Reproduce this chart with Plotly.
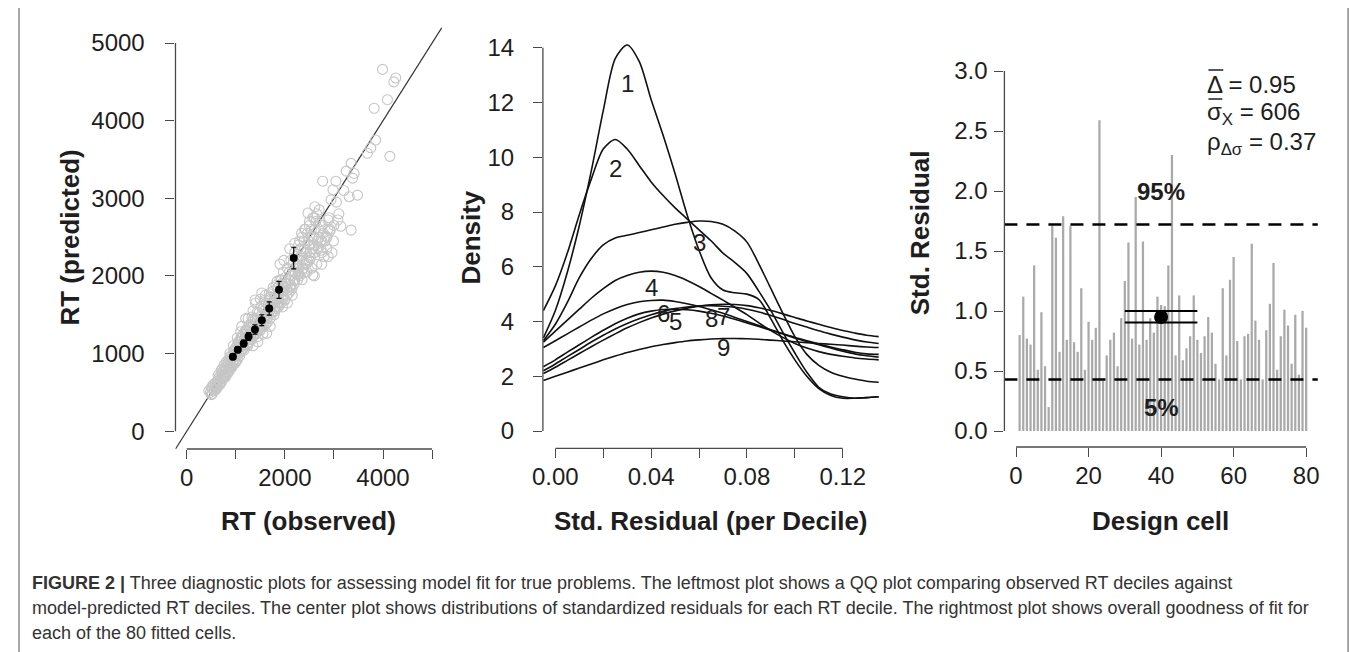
import plotly.graph_objects as go

W, H = 1357, 652
OFF = 8  # default page (body) margin of the html page
FW, FH = W - OFF, H - OFF
FONT = "Liberation Sans, Arial, sans-serif"

# ---------------- Left panel: QQ plot data ----------------
obs_gray = [450, 480, 500, 520, 540, 560, 580, 600, 620, 640, 660, 680, 700, 720, 740, 760, 780, 800, 820, 840,
            860, 880, 900, 920, 940, 960, 980, 1000, 1000, 1020,
            1050, 1060, 1080, 1100, 1120, 1150, 1160, 1180, 1200, 1220, 1250, 1260, 1280, 1300, 1320, 1350, 1370,
            1400, 1420, 1450, 1470, 1500, 1520, 1550, 1570, 1600, 1620, 1640, 1400, 1300, 1450, 1550, 1200, 1100,
            1650, 1680, 1700, 1720, 1750, 1780, 1800, 1820, 1850, 1870, 1900, 1920, 1950, 1970, 2000, 2020, 2050,
            2080, 2100, 2120, 2150, 2170, 2200, 1900, 1980, 2100, 1800, 1750,
            2250, 2280, 2300, 2330, 2350, 2380, 2400, 2420, 2450, 2480, 2500, 2520, 2550, 2570, 2600, 2620, 2650,
            2680, 2700, 2720, 2750, 2780, 2800, 2850, 2880, 2600, 2500, 2400, 2300, 2700, 2900,
            2880, 2740, 2570, 2610, 2470, 2340, 2200, 2270, 2130, 2000, 1930, 1870, 1630, 1530, 1390, 1330, 1120,
            2770, 3040, 2980, 2940, 3350, 3140, 2880, 3350, 3410, 3380, 3480, 3310, 3990, 4260, 4220, 4090, 3820,
            4140, 3850, 3750, 3680, 3050, 3200, 3100, 3250,
            500, 520, 550, 570, 590, 610, 630, 650, 670, 690, 710, 730, 750, 770, 790, 810, 830, 850, 870, 890,
            910, 930, 950, 970, 990, 1010, 1030, 880, 950, 820, 760, 700, 1030,
            1040, 1070, 1090, 1110, 1130, 1140, 1170, 1190, 1210, 1230, 1240, 1270, 1290, 1310, 1330, 1360, 1380,
            1410, 1430, 1460, 1480, 1510, 1530, 1560, 1590, 1610, 1630, 1660, 1250, 1350, 1500, 1600, 1450, 1700,
            1350,
            1690, 1710, 1740, 1760, 1790, 1810, 1840, 1860, 1880, 1910, 1940, 1960, 1990, 2010, 2040, 2060, 2090,
            2110, 2140, 2160, 2190, 2210, 2240, 2260, 2290, 2320, 2340, 2370, 2390, 2410, 2440, 2460, 2490, 2510,
            2540, 2560, 2590, 2630, 2660, 2690, 2730, 2760, 2820, 2860, 2920, 2960, 2990, 2450, 2350, 2550, 2150,
            2050, 1950, 2650, 2750, 2600, 2500, 2400, 2300, 2200,
            600, 680, 760, 840, 920, 1000, 1080, 1160, 1240, 1320, 1400, 1480, 1560, 1640, 1720, 1800, 1880, 1960,
            2040, 2120, 2200, 2280, 2360, 2440, 2520, 2600, 2680, 2760, 2840, 2920, 3000, 3080,
            640, 720, 800, 880, 960, 1040, 1120, 1200, 1280, 1360, 1440, 1520, 1600, 1680, 1760, 1840]
pred_gray = [520, 500, 560, 480, 600, 530, 620, 560, 640, 590, 700, 620, 680, 760, 690, 800, 720, 830, 760, 880,
             800, 920, 840, 980, 880, 1020, 930, 1080, 900, 980,
             1150, 1000, 1080, 1200, 1040, 1250, 1100, 1180, 1300, 1120, 1230, 1350, 1150, 1280, 1400, 1220, 1330,
             1450, 1260, 1380, 1520, 1300, 1430, 1580, 1350, 1480, 1650, 1400, 1650, 1200, 1220, 1250, 1450, 1280,
             1550, 1720, 1450, 1600, 1800, 1500, 1680, 1880, 1600, 1750, 1950, 1650, 1820, 2050, 1700, 1900, 2100,
             1780, 1950, 2200, 1850, 2050, 1950, 2150, 2200, 2350, 1550, 1650,
             2150, 2400, 2000, 2250, 2500, 2100, 2350, 2600, 2200, 2450, 2650, 2300, 2500, 2750, 2400, 2600, 2800,
             2350, 2500, 2700, 2300, 2550, 2250, 2350, 2600, 2000, 2200, 2050, 2200, 2850, 2750,
             2720, 2330, 2010, 2890, 2810, 2550, 2420, 2030, 1820, 1690, 1950, 1600, 1260, 1780, 1690, 1470, 1350,
             3220, 3220, 3110, 2980, 2590, 2640, 2250, 3450, 3320, 3260, 3040, 3020, 4660, 4550, 4500, 4270, 4160,
             3540, 3750, 3650, 3580, 2950, 3100, 2800, 3350,
             470, 560, 520, 580, 540, 610, 570, 650, 600, 700, 640, 720, 680, 760, 700, 800, 740, 850, 780, 880,
             820, 940, 860, 980, 880, 1050, 920, 1000, 1100, 900, 850, 780, 1200,
             1080, 1150, 1020, 1130, 1210, 1060, 1150, 1250, 1180, 1300, 1100, 1220, 1330, 1180, 1280, 1380, 1240,
             1330, 1420, 1300, 1400, 1480, 1340, 1450, 1560, 1380, 1500, 1620, 1450, 1550, 1700, 1750, 1150, 1350,
             1100,
             1550, 1700, 1520, 1650, 1750, 1580, 1700, 1850, 1650, 1780, 1900, 1700, 1850, 1980, 1750, 1900, 2050,
             1850, 2000, 2150, 1900, 2050, 2250, 1950, 2100, 2350, 2050, 2200, 2450, 2150, 2300, 2550, 2250, 2400,
             2600, 2350, 2500, 2700, 2450, 2600, 2450, 2650, 2450, 2500, 2600, 2300, 2450, 2050, 1950, 2100, 1750,
             1650, 1600, 2150, 2150, 2750, 2700, 2600, 2450, 2300,
             540, 610, 690, 760, 830, 900, 970, 1040, 1110, 1180, 1250, 1320, 1390, 1460, 1530, 1600, 1670, 1740,
             1810, 1880, 1950, 2020, 2090, 2160, 2230, 2300, 2370, 2440, 2510, 2580, 2650, 2720,
             720, 800, 880, 960, 1040, 1120, 1200, 1290, 1370, 1450, 1530, 1610, 1690, 1770, 1850, 1930]
obs_mean = [940, 1040, 1160, 1260, 1390, 1530, 1680, 1880, 2180]
pred_mean = [960, 1050, 1130, 1220, 1310, 1430, 1580, 1820, 2230]
pred_err = [40, 40, 45, 50, 60, 70, 85, 110, 140]
rt_ticks = [0, 1000, 2000, 3000, 4000, 5000]
rt_x_labels = ["0", "", "2000", "", "4000", ""]
rt_y_labels = ["0", "1000", "2000", "3000", "4000", "5000"]
rt_range = [-230, 5200]

# ---------------- Center panel: residual densities ----------------
resid_x = [-0.005, 0.0, 0.005, 0.01, 0.015, 0.02, 0.025, 0.03, 0.035, 0.04, 0.045, 0.05, 0.055, 0.06, 0.065,
           0.07, 0.075, 0.08, 0.085, 0.09, 0.095, 0.1, 0.105, 0.11, 0.115, 0.12, 0.125, 0.13, 0.135]
dens_1 = [3.4, 4.4, 5.8, 7.5, 9.5, 11.7, 13.6, 14.1, 13.5, 12.1, 10.8, 9.4, 7.9, 6.6, 5.6, 5.15, 5.05, 5.0, 4.8,
          4.1, 3.3, 2.6, 2.0, 1.55, 1.3, 1.2, 1.2, 1.22, 1.25]
dens_2 = [4.4, 5.3, 6.5, 7.9, 9.2, 10.3, 10.65, 10.3, 9.7, 9.1, 8.6, 8.15, 7.75, 7.35, 6.95, 6.5, 6.15, 5.75, 5.1,
          4.4, 3.6, 2.85, 2.15, 1.6, 1.35, 1.25, 1.2, 1.22, 1.25]
dens_3 = [3.3, 3.9, 4.7, 5.6, 6.3, 6.8, 7.05, 7.15, 7.25, 7.35, 7.45, 7.55, 7.62, 7.67, 7.65, 7.55, 7.3, 6.9, 6.1,
          5.2, 4.3, 3.45, 2.8, 2.4, 2.15, 2.0, 1.9, 1.82, 1.78]
dens_4 = [3.25, 3.65, 4.05, 4.45, 4.85, 5.2, 5.5, 5.68, 5.8, 5.84, 5.8, 5.68, 5.5, 5.28, 5.03, 4.78, 4.52, 4.25,
          3.95, 3.67, 3.42, 3.2, 3.03, 2.9, 2.8, 2.73, 2.67, 2.63, 2.6]
dens_5 = [2.35, 2.6, 2.88, 3.15, 3.42, 3.68, 3.92, 4.12, 4.28, 4.38, 4.44, 4.45, 4.43, 4.38, 4.3, 4.2, 4.08, 3.95,
          3.82, 3.68, 3.55, 3.42, 3.3, 3.18, 3.07, 2.97, 2.88, 2.82, 2.8]
dens_6 = [3.05, 3.3, 3.55, 3.8, 4.05, 4.28, 4.47, 4.62, 4.72, 4.77, 4.78, 4.73, 4.65, 4.55, 4.43, 4.3, 4.15, 4.0,
          3.85, 3.7, 3.55, 3.4, 3.27, 3.15, 3.03, 2.92, 2.82, 2.75, 2.7]
dens_7 = [2.1, 2.33, 2.58, 2.83, 3.08, 3.32, 3.55, 3.77, 3.96, 4.13, 4.27, 4.39, 4.49, 4.56, 4.61, 4.63, 4.62, 4.58,
          4.5, 4.4, 4.28, 4.15, 4.02, 3.9, 3.78, 3.67, 3.58, 3.5, 3.45]
dens_8 = [2.2, 2.45, 2.72, 2.98, 3.25, 3.5, 3.73, 3.93, 4.1, 4.25, 4.37, 4.47, 4.53, 4.57, 4.58, 4.56, 4.52, 4.45,
          4.35, 4.22, 4.08, 3.93, 3.8, 3.66, 3.54, 3.43, 3.33, 3.25, 3.2]
dens_9 = [1.85, 2.0, 2.15, 2.3, 2.45, 2.6, 2.74, 2.87, 2.98, 3.08, 3.16, 3.23, 3.29, 3.33, 3.36, 3.38, 3.38, 3.37,
          3.35, 3.32, 3.29, 3.26, 3.23, 3.2, 3.17, 3.14, 3.1, 3.07, 3.05]
dens_labels = ["1", "2", "3", "4", "5", "6", "7", "8", "9"]
dens_ticks_x = [0.0, 0.02, 0.04, 0.06, 0.08, 0.1, 0.12]
dens_ticktext_x = ["0.00", "", "0.04", "", "0.08", "", "0.12"]
dens_ticks_y = [0, 2, 4, 6, 8, 10, 12, 14]

# ---------------- Right panel: per-cell goodness of fit ----------------
cells = list(range(1, 81))
cell_resid = [0.80, 1.12, 0.77, 0.72, 1.38, 0.51, 0.99, 0.54, 0.20, 1.71,
              1.61, 0.66, 1.79, 0.76, 1.71, 0.74, 0.66, 1.19, 0.51, 0.91,
              0.76, 0.86, 2.59, 0.42, 0.63, 0.76, 0.82, 0.54, 0.94, 1.25,
              1.57, 0.77, 1.95, 0.72, 1.58, 0.76, 0.94, 0.82, 1.12, 1.05,
              1.04, 1.38, 2.30, 0.63, 1.13, 0.59, 0.69, 0.79, 1.13, 0.76,
              0.65, 0.79, 0.95, 0.82, 0.56, 0.43, 1.19, 0.63, 1.26, 1.45,
              0.75, 0.43, 0.79, 0.81, 1.56, 0.92, 0.76, 0.43, 0.84, 1.06,
              1.40, 0.51, 0.79, 1.01, 0.88, 0.56, 0.97, 0.47, 1.00, 0.86]
q95, q05 = 1.72, 0.43
mean_delta, ci_hi, ci_lo = 0.95, 1.00, 0.905
mean_cell, ci_span = 40, [30, 50]
cell_ticks = [0, 20, 40, 60, 80]
res_ticks = [0.0, 0.5, 1.0, 1.5, 2.0, 2.5, 3.0]
stat_lines = ["\u0394 = 0.95", "\u03c3<sub>X</sub> = 606", "\u03c1<sub>\u0394\u03c3</sub> = 0.37"]


# ---------------- Geometry helpers (reference pixels -> paper) ----------------
def px_x(p):
    return (p - OFF) / FW


def px_y(p):
    return 1 - (p - OFF) / FH


fig = go.Figure()

GRAY = "#c6c6c6"
AX = "#4a4a4a"
TXT = "#1e1e1e"

# Left panel traces
fig.add_trace(go.Scatter(x=[rt_range[0] - 200, rt_range[1] + 200], y=[rt_range[0] - 200, rt_range[1] + 200],
                         mode="lines", line=dict(color="#333333", width=1.2), xaxis="x", yaxis="y",
                         hoverinfo="skip", showlegend=False))
fig.add_trace(go.Scatter(x=obs_gray, y=pred_gray, mode="markers", xaxis="x", yaxis="y", showlegend=False,
                         marker=dict(symbol="circle-open", size=10, color=GRAY, line=dict(width=1.1, color=GRAY))))
fig.add_trace(go.Scatter(x=obs_mean, y=pred_mean, mode="markers", xaxis="x", yaxis="y", showlegend=False,
                         marker=dict(size=8, color="black"),
                         error_y=dict(type="data", array=pred_err, color="black", thickness=1.1, width=2.5)))

# Center panel traces
dens_all = [dens_1, dens_2, dens_3, dens_4, dens_5, dens_6, dens_7, dens_8, dens_9]
for d in dens_all:
    fig.add_trace(go.Scatter(x=resid_x, y=d, mode="lines",
                             line=dict(color="#111111", width=1.6, shape="spline", smoothing=0.8),
                             xaxis="x2", yaxis="y2", showlegend=False, hoverinfo="skip"))

annotations = []
for lab, d in zip(dens_labels, dens_all):
    i = max(range(len(d)), key=lambda k: d[k])
    annotations.append(dict(x=resid_x[i], y=0.9 * d[i], xref="x2", yref="y2", text=lab, showarrow=False,
                            xanchor="center", yanchor="middle", font=dict(family=FONT, size=24, color=TXT)))

# Right panel traces
fig.add_trace(go.Bar(x=cells, y=cell_resid, width=0.62, marker=dict(color="#a9a9a9", line=dict(width=0)),
                     xaxis="x3", yaxis="y3", showlegend=False))
for yv in (ci_hi, ci_lo):
    fig.add_trace(go.Scatter(x=ci_span, y=[yv, yv], mode="lines", line=dict(color="black", width=2),
                             xaxis="x3", yaxis="y3", showlegend=False))
fig.add_trace(go.Scatter(x=[mean_cell], y=[mean_delta], mode="markers", marker=dict(size=14, color="black"),
                         xaxis="x3", yaxis="y3", showlegend=False))

shapes = []
for yv in (q95, q05):
    shapes.append(dict(type="line", xref="x3 domain", x0=0, x1=1, yref="y3", y0=yv, y1=yv,
                       line=dict(color="black", width=2.5, dash="13px,9px")))


# R-style axis lines spanning only the tick range
def axis_lines(xa, ya, xt, yt):
    return [dict(type="line", xref=xa, x0=xt[0], x1=xt[-1], yref=ya + " domain", y0=0, y1=0,
                 line=dict(color=AX, width=1.3)),
            dict(type="line", xref=xa + " domain", x0=0, x1=0, yref=ya, y0=yt[0], y1=yt[-1],
                 line=dict(color=AX, width=1.3))]


shapes += axis_lines("x", "y", rt_ticks, rt_ticks)
shapes += axis_lines("x2", "y2", dens_ticks_x, dens_ticks_y)
shapes += axis_lines("x3", "y3", cell_ticks, res_ticks)

# Outer figure frame
shapes.append(dict(type="rect", xref="paper", yref="paper", x0=px_x(8), x1=px_x(1350), y0=px_y(720),
                   y1=px_y(6), line=dict(color="#8a8a8a", width=1.5)))

# Overlines for the statistics block
for x0, x1, yy in ((1209, 1224, 70), (1209, 1223, 99)):
    shapes.append(dict(type="line", xref="paper", yref="paper", x0=px_x(x0), x1=px_x(x1), y0=px_y(yy),
                       y1=px_y(yy), line=dict(color=TXT, width=1.5)))

annotations.append(dict(x=40, y=2.0, xref="x3", yref="y3", text="<b>95%</b>", showarrow=False,
                        xanchor="center", yanchor="middle", font=dict(family=FONT, size=24, color=TXT)))
annotations.append(dict(x=40, y=0.2, xref="x3", yref="y3", text="<b>5%</b>", showarrow=False,
                        xanchor="center", yanchor="middle", font=dict(family=FONT, size=24, color=TXT)))
for t, yy in zip(stat_lines, (85, 113, 143)):
    annotations.append(dict(x=px_x(1206), y=px_y(yy), xref="paper", yref="paper", text=t, showarrow=False,
                            xanchor="left", yanchor="middle", font=dict(family=FONT, size=24, color=TXT)))

# Axis titles
TITLE_FONT = dict(family=FONT, size=26, color=TXT)
titles = [("<b>RT (observed)</b>", 300, 521, 0), ("<b>RT (predicted)</b>", 59, 238, -90),
          ("<b>Std. Residual (per Decile)</b>", 707, 521, 0), ("<b>Density</b>", 464, 238, -90),
          ("<b>Design cell</b>", 1161, 521, 0), ("<b>Std. Residual</b>", 918, 233, -90)]
for t, x, y, ang in titles:
    annotations.append(dict(x=px_x(x), y=px_y(y), xref="paper", yref="paper", text=t, showarrow=False,
                            textangle=ang, xanchor="center", yanchor="middle", font=TITLE_FONT))

caption = ["<b>FIGURE 2 |</b> Three diagnostic plots for assessing model fit for true problems. The leftmost plot "
           "shows a QQ plot comparing observed RT deciles against",
           "model-predicted RT deciles. The center plot shows distributions of standardized residuals for each RT "
           "decile. The rightmost plot shows overall goodness of fit for",
           "each of the 80 fitted cells."]
for i, line in enumerate(caption):
    annotations.append(dict(x=px_x(19), y=px_y(583 + 25 * i), xref="paper", yref="paper", text=line,
                            showarrow=False, xanchor="left", yanchor="middle",
                            font=dict(family=FONT, size=18, color="#333333")))

TICK_FONT = dict(family=FONT, size=24, color=TXT)
common = dict(showgrid=False, zeroline=False, showline=False, ticks="outside", ticklen=9, tickwidth=1.3,
              tickcolor=AX, tickfont=TICK_FONT)

fig.update_layout(
    width=FW, height=FH, margin=dict(l=0, r=0, t=0, b=0),
    paper_bgcolor="white", plot_bgcolor="white", showlegend=False,
    xaxis=dict(domain=[px_x(166), px_x(435)], range=rt_range, tickvals=rt_ticks, ticktext=rt_x_labels,
               anchor="y", ticklabelstandoff=-2, **common),
    yaxis=dict(domain=[px_y(449), px_y(27.5)], range=rt_range, tickvals=rt_ticks, ticktext=rt_y_labels,
               anchor="x", ticklabelstandoff=16, **common),
    xaxis2=dict(domain=[px_x(537), px_x(877)], range=[-0.0052, 0.1354], tickvals=dens_ticks_x,
                ticktext=dens_ticktext_x, anchor="y2", ticklabelstandoff=-2, **common),
    yaxis2=dict(domain=[px_y(448.3), px_y(28)], range=[-0.63, 14.72], tickvals=dens_ticks_y, anchor="x2",
                ticklabelstandoff=14, **common),
    xaxis3=dict(domain=[px_x(1003), px_x(1319.4)], range=[-3.2, 83.2], tickvals=cell_ticks, anchor="y3",
                ticklabelstandoff=-2, **common),
    yaxis3=dict(domain=[px_y(447), px_y(19.4)], range=[-0.133, 3.43], tickvals=res_ticks, tickformat=".1f",
                anchor="x3", ticklabelstandoff=2, **common),
    shapes=shapes, annotations=annotations,
)

fig.write_html("out.html")
